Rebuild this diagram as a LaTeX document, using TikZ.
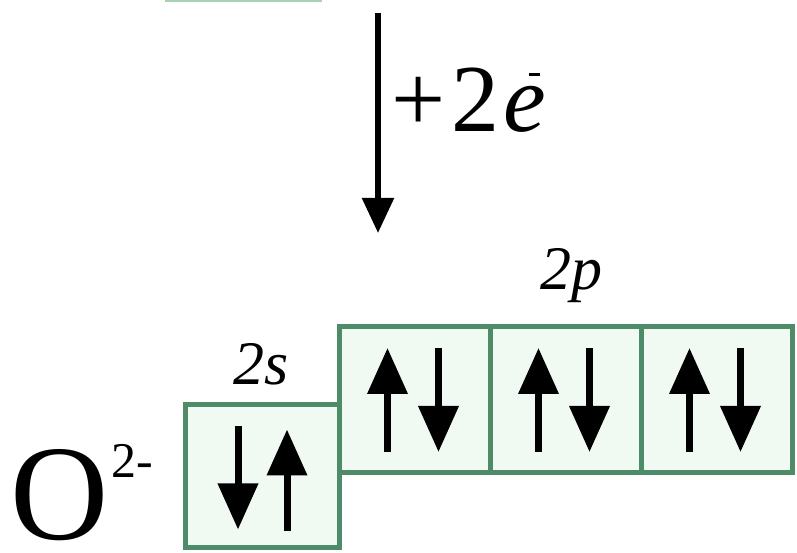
\documentclass[tikz,border=0pt]{standalone}
\usepackage{fontspec}
\setmainfont{Liberation Serif}
\usetikzlibrary{arrows.meta}
\definecolor{orbline}{HTML}{4E8B69}
\definecolor{orbfill}{HTML}{F0FAF3}
\definecolor{orbfade}{HTML}{A8D3B3}
\tikzset{
  orb/.style={draw=orbline,fill=orbfill,line width=5pt,inner sep=0pt,
    minimum width=151pt,minimum height=146pt},
  spin/.style={draw=black,line width=7pt,
    -{Triangle[length=46pt,width=39pt]}},
  gain/.style={draw=black,line width=5.5pt,
    -{Triangle[length=35pt,width=31pt]}},
}
\newcommand{\updown}[1]{%
  \draw[spin] ([xshift=-27pt,yshift=-52pt]#1.center) -- ++(0,104);
  \draw[spin] ([xshift=24pt,yshift=52pt]#1.center) -- ++(0,-104);
}
\newcommand{\downup}[1]{%
  \draw[spin] ([xshift=-24pt,yshift=50pt]#1.center) -- ++(0,-103);
  \draw[spin] ([xshift=25pt,yshift=-55pt]#1.center) -- ++(0,102);
}

\begin{document}
\begin{tikzpicture}[x=1pt,y=1pt,line cap=butt,line join=miter]
\useasboundingbox (0,0) rectangle (797,553);
\fill[white] (0,0) rectangle (797,553);

% edge of the box above, cut off by the frame
\draw[draw=orbfade,line width=2.5pt] (165,552.5) -- (322,552.5);

% electron gain
\coordinate (src) at (378,540);
\coordinate (dst) at (378,320);
\draw[gain] (src) -- (dst);
\node[anchor=base west,inner sep=0pt,font=\fontsize{96}{96}\selectfont]
  (gainlbl) at (391,421)
  {+\kern6pt2\kern4pt\textit{e}\kern-17pt\raisebox{56pt}{\rule{11pt}{2.5pt}}};

% 2p sublevel
\node[orb] (p1) at (414.5,153) {};
\node[orb] (p2) at (565.5,153) {};
\node[orb] (p3) at (716.5,153) {};
\updown{p1}
\updown{p2}
\updown{p3}
\node[anchor=base,inner sep=0pt,font=\itshape\fontsize{62}{62}\selectfont]
  (plbl) at (571,263) {2p};

% 2s sublevel
\node[orb,minimum width=154pt,minimum height=143pt] (s1) at (262,76.5) {};
\downup{s1}
\node[anchor=base,inner sep=0pt,font=\itshape\fontsize{62}{62}\selectfont]
  (slbl) at (261,168) {2s};

% ion
\node[anchor=base west,inner sep=0pt] (ion) at (10,13)
  {\fontsize{136}{136}\selectfont O\kern3pt\raisebox{62pt}{\fontsize{50}{50}\selectfont 2-}};

\end{tikzpicture}
\end{document}
